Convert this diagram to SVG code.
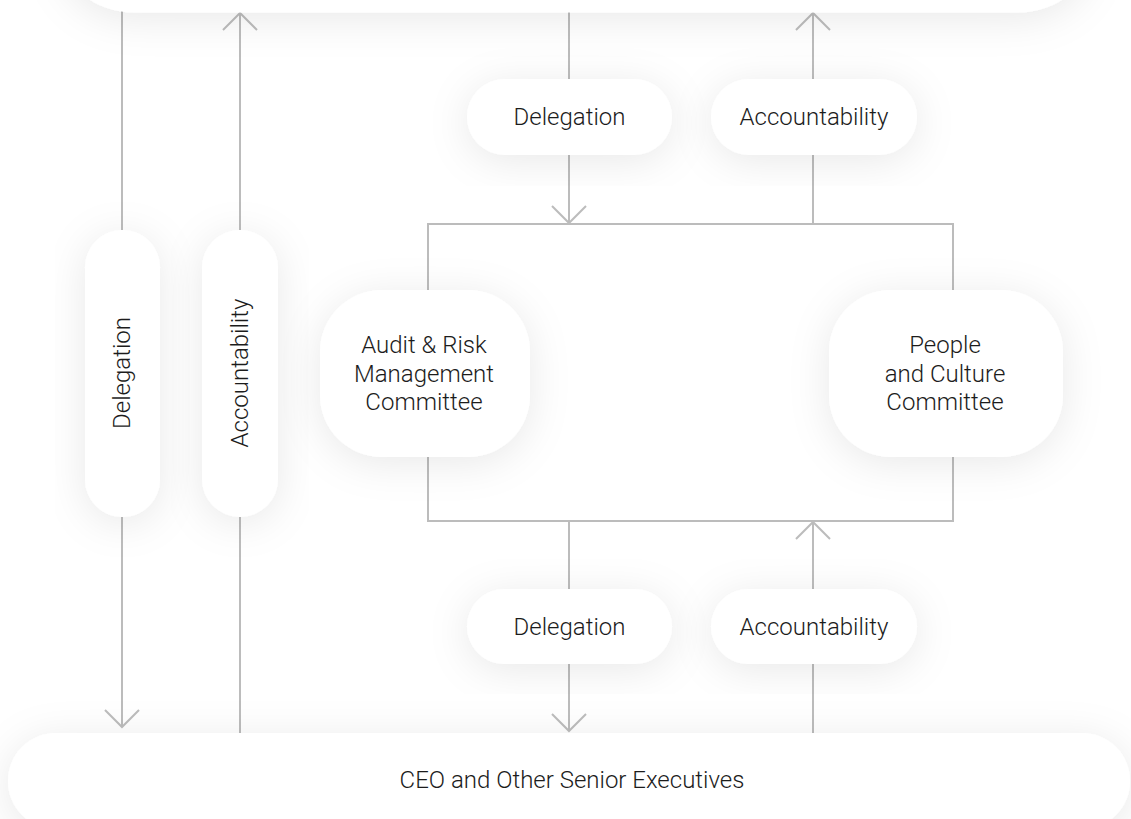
<svg xmlns="http://www.w3.org/2000/svg" width="1131" height="819" viewBox="0 0 1131 819">
  <style>
    .bg { fill: #ffffff; }
    .box { fill: #ffffff; filter: url(#soft); }
    .wire { fill: none; stroke: #bcbcbc; stroke-width: 2; }
    .lbl { font-family: "Roboto Light", Roboto, "Liberation Sans", sans-serif; font-weight: 300; font-size: 24px; fill: #1c1c1c; text-anchor: middle; }
  </style>
  <defs>
    <filter id="soft" x="-40%" y="-40%" width="180%" height="180%">
      <feDropShadow dx="0" dy="6" stdDeviation="20" flood-color="#000000" flood-opacity="0.09"/>
    </filter>
    <marker id="head" viewBox="-20 -20 40 40" refX="0" refY="0" markerWidth="40" markerHeight="40" markerUnits="userSpaceOnUse" orient="auto">
      <path d="M-17,-17 L0,0 L-17,17" fill="none" stroke="#bcbcbc" stroke-width="2"/>
    </marker>
  </defs>

  <rect class="bg" x="0" y="0" width="1131" height="819"/>

  <!-- flow lines -->
  <g id="connectors">
    <!-- left column: board to executives -->
    <line class="wire" x1="122" y1="0" x2="122" y2="230"/>
    <line class="wire" x1="122" y1="517" x2="122" y2="727" marker-end="url(#head)"/>
    <line class="wire" x1="240" y1="733" x2="240" y2="517"/>
    <line class="wire" x1="240" y1="230" x2="240" y2="13" marker-end="url(#head)"/>
    <!-- board to committees -->
    <line class="wire" x1="569" y1="0" x2="569" y2="80"/>
    <line class="wire" x1="569" y1="155" x2="569" y2="223" marker-end="url(#head)"/>
    <line class="wire" x1="813" y1="224" x2="813" y2="155"/>
    <line class="wire" x1="813" y1="80" x2="813" y2="13" marker-end="url(#head)"/>
    <!-- committee frame -->
    <rect class="wire" x="428" y="224" width="525" height="297"/>
    <!-- committees to executives -->
    <line class="wire" x1="569" y1="521" x2="569" y2="589"/>
    <line class="wire" x1="569" y1="664" x2="569" y2="731" marker-end="url(#head)"/>
    <line class="wire" x1="813" y1="733" x2="813" y2="664"/>
    <line class="wire" x1="813" y1="589" x2="813" y2="522" marker-end="url(#head)"/>
  </g>

  <g id="board">
    <rect class="box" x="62" y="-110" width="1028" height="122.5" rx="72"/>
  </g>

  <g id="delegation-left">
    <rect class="box" x="85" y="230" width="75" height="287" rx="37.5"/>
    <text class="lbl" transform="translate(130,373) rotate(-90)">Delegation</text>
  </g>
  <g id="accountability-left">
    <rect class="box" x="202" y="230" width="76" height="287" rx="38"/>
    <text class="lbl" transform="translate(248,373) rotate(-90)">Accountability</text>
  </g>

  <g id="delegation-top">
    <rect class="box" x="467" y="79" width="205" height="76" rx="38"/>
    <text class="lbl" x="569.5" y="125">Delegation</text>
  </g>
  <g id="accountability-top">
    <rect class="box" x="711" y="79" width="206" height="76" rx="38"/>
    <text class="lbl" x="814" y="125">Accountability</text>
  </g>

  <g id="audit-committee">
    <rect class="box" x="320" y="290" width="210" height="167" rx="62"/>
    <text class="lbl" x="424" y="353">Audit &amp; Risk</text>
    <text class="lbl" x="424" y="382">Management</text>
    <text class="lbl" x="424" y="410">Committee</text>
  </g>

  <g id="people-committee">
    <rect class="box" x="829" y="290" width="234" height="167" rx="62"/>
    <text class="lbl" x="945" y="353">People</text>
    <text class="lbl" x="945" y="382">and Culture</text>
    <text class="lbl" x="945" y="410">Committee</text>
  </g>

  <g id="delegation-bottom">
    <rect class="box" x="467" y="589" width="205" height="75" rx="37.5"/>
    <text class="lbl" x="569.5" y="635">Delegation</text>
  </g>
  <g id="accountability-bottom">
    <rect class="box" x="711" y="589" width="206" height="75" rx="37.5"/>
    <text class="lbl" x="814" y="635">Accountability</text>
  </g>

  <g id="executives">
    <rect class="box" x="8" y="733" width="1122" height="96" rx="48"/>
    <text class="lbl" x="572" y="788">CEO and Other Senior Executives</text>
  </g>
</svg>
